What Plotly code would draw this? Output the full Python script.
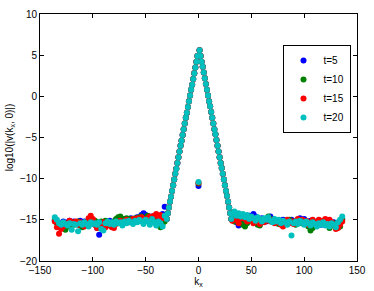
import plotly.graph_objects as go

# ---- data ----
left_k = list(range(-136, -31, 2))      # 53 points
right_k = list(range(32, 137, 2))       # 53 points
peak_k = list(range(-30, 0)) + list(range(1, 32))
peak_vals = [-14.9, -14.2, -13.5, -12.8, -12.2, -11.5, -10.8, -10.1, -9.4, -8.8,
             -8.1, -7.4, -6.7, -6.0, -5.4, -4.7, -4.0, -3.3, -2.6, -2.0,
             -1.3, -0.6, 0.1, 0.8, 1.4, 2.1, 2.8, 3.5, 4.2, 4.9,
             5.6, 4.9, 4.2, 3.6, 2.9, 2.2, 1.5, 0.8, 0.1, -0.6,
             -1.2, -1.9, -2.6, -3.3, -4.0, -4.6, -5.3, -6.0, -6.7, -7.4,
             -8.1, -8.7, -9.4, -10.1, -10.8, -11.5, -12.1, -12.8, -13.5, -14.2, -14.9]
k0 = [0]

labels = ["t=5", "t=10", "t=15", "t=20"]
colors = ["#0000ff", "#008000", "#ff0000", "#00bfbf"]

left_t5 = [-15.1, -15.3, -15.5, -15.4, -15.2, -15.5, -15.3, -15.1, -15.4, -15.2,
           -15.5, -15.3, -15.1, -15.4, -15.2, -15.5, -15.3, -15.1, -15.4, -15.6,
           -16.0, -16.8, -15.7, -15.4, -15.2, -15.3, -15.1, -15.4, -15.2, -15.0,
           -15.3, -15.1, -15.0, -14.9, -15.2, -15.0, -14.8, -15.1, -14.9, -14.7,
           -14.9, -14.4, -14.2, -14.4, -14.7, -14.9, -14.6, -14.8, -14.5, -14.7,
           -14.9, -14.3, -13.4]
left_t10 = [-15.0, -15.4, -15.7, -15.5, -15.9, -16.2, -15.8, -15.5, -15.3, -15.6,
            -15.4, -15.2, -15.7, -15.9, -15.5, -15.3, -15.1, -15.4, -15.2, -15.1,
            -15.3, -15.5, -15.2, -15.4, -15.1, -15.3, -15.7, -15.4, -15.2, -14.9,
            -14.7, -14.6, -14.9, -15.1, -14.8, -15.0, -14.9, -15.2, -14.8, -15.0,
            -14.7, -14.6, -14.8, -14.9, -14.5, -14.7, -14.9, -15.1, -15.3, -15.6,
            -15.9, -15.5, -15.2]
left_t15 = [-15.2, -15.9, -16.7, -16.1, -15.8, -15.4, -15.6, -15.1, -15.3, -15.5,
            -15.2, -15.6, -15.3, -15.5, -15.8, -15.4, -14.8, -14.5, -14.9, -15.6,
            -16.0, -15.7, -15.4, -15.3, -15.9, -15.6, -15.4, -15.9, -16.0, -15.5,
            -15.3, -15.1, -15.4, -15.2, -15.0, -15.3, -15.1, -14.9, -15.2, -14.8,
            -15.0, -14.7, -14.9, -15.1, -14.8, -14.6, -14.8, -14.5, -14.3, -14.6,
            -14.4, -14.8, -14.6]
left_t20 = [-14.7, -15.0, -15.4, -15.6, -15.3, -15.5, -15.7, -15.4, -16.2, -15.5,
            -15.6, -16.4, -15.4, -15.6, -15.3, -15.5, -15.8, -15.3, -15.5, -15.4,
            -15.6, -15.3, -16.1, -16.3, -15.4, -15.2, -15.5, -15.3, -15.6, -15.2,
            -15.4, -15.3, -15.7, -15.2, -15.4, -15.1, -15.3, -15.5, -15.1, -15.3,
            -15.0, -15.2, -15.5, -15.0, -15.2, -15.6, -14.9, -15.3, -15.7, -15.2,
            -15.4, -15.8, -14.5]

right_t5 = [-14.7, -14.9, -15.3, -15.7, -15.2, -14.9, -14.6, -14.8, -14.5, -14.7,
            -14.3, -14.6, -14.9, -15.1, -14.8, -15.0, -15.2, -14.9, -14.6, -14.9,
            -15.2, -15.4, -15.1, -15.3, -15.0, -15.3, -15.5, -15.2, -15.0, -15.3,
            -15.1, -15.0, -14.8, -15.1, -14.9, -15.2, -15.4, -15.1, -15.3, -15.5,
            -15.2, -15.4, -15.6, -15.3, -15.1, -15.4, -15.2, -15.5, -15.3, -15.6,
            -15.4, -15.2, -14.9]
right_t10 = [-14.8, -15.2, -14.9, -15.3, -15.0, -15.6, -15.8, -15.4, -15.1, -14.8,
             -15.0, -15.3, -15.6, -15.7, -15.2, -14.9, -15.1, -14.6, -14.9, -15.2,
             -15.0, -15.3, -15.5, -15.2, -15.4, -15.1, -15.3, -15.0, -15.2, -15.4,
             -15.6, -15.3, -15.1, -15.4, -15.2, -15.5, -15.8, -16.3, -16.0, -15.6,
             -15.3, -15.5, -15.2, -15.4, -15.6, -15.3, -16.0, -15.7, -15.4, -15.7,
             -15.9, -15.8, -15.0]
right_t15 = [-15.1, -14.6, -15.0, -15.4, -14.8, -14.5, -14.9, -15.2, -14.7, -15.0,
             -15.4, -14.9, -15.2, -15.5, -15.0, -15.3, -15.1, -14.8, -15.2, -15.0,
             -15.4, -15.1, -15.3, -15.6, -15.8, -15.2, -15.0, -15.4, -15.2, -15.5,
             -15.1, -14.9, -15.2, -15.0, -15.3, -15.1, -15.6, -15.3, -15.0, -15.4,
             -15.2, -15.0, -15.3, -15.1, -14.9, -15.2, -15.0, -15.3, -15.6, -16.1,
             -16.0, -15.6, -15.2]
right_t20 = [-14.3, -14.0, -14.5, -14.2, -14.6, -14.3, -14.7, -14.4, -14.9, -14.6,
             -14.8, -15.1, -14.7, -14.9, -15.2, -14.8, -15.0, -14.7, -15.1, -15.3,
             -14.9, -15.2, -15.0, -15.4, -15.1, -15.3, -15.6, -15.2, -16.9, -15.4,
             -15.2, -15.5, -15.1, -15.3, -15.6, -15.2, -15.4, -15.7, -15.3, -15.5,
             -15.8, -15.4, -15.6, -15.3, -15.7, -15.5, -15.8, -15.4, -15.6, -15.9,
             -15.3, -15.0, -14.6]

k0_vals = [-10.9, -10.6, -10.5, -10.4]

lefts = [left_t5, left_t10, left_t15, left_t20]
rights = [right_t5, right_t10, right_t15, right_t20]

# ---- figure ----
FONT = "Liberation Sans, Arial, sans-serif"
fig = go.Figure()
for i in range(4):
    xs = left_k + peak_k + k0 + right_k
    ys = lefts[i] + peak_vals + [k0_vals[i]] + rights[i]
    fig.add_trace(go.Scatter(
        x=xs, y=ys, mode="markers", name=labels[i],
        marker=dict(color=colors[i], size=6, line=dict(width=0)),
    ))

axis_common = dict(
    showgrid=False, zeroline=False, showline=True, linecolor="black", linewidth=1,
    mirror="allticks", ticks="inside", ticklen=4, tickcolor="black", tickwidth=1,
    tickfont=dict(family=FONT, size=10, color="black"),
)

fig.update_layout(
    width=374, height=291,
    margin=dict(l=40, r=12, t=8, b=28),
    paper_bgcolor="white", plot_bgcolor="white",
    showlegend=True,
    legend=dict(
        x=0.765, y=0.875, xanchor="left", yanchor="top",
        bgcolor="white", bordercolor="black", borderwidth=1,
        font=dict(family=FONT, size=10, color="black"),
        itemwidth=30, tracegroupgap=0,
    ),
    xaxis=dict(range=[-150, 150], tickvals=[-150, -100, -50, 0, 50, 100, 150],
               ticktext=["\u2212150", "\u2212100", "\u221250", "0", "50", "100", "150"],
               title=dict(text="k<sub>x</sub>", standoff=0,
                          font=dict(family=FONT, size=10, color="black")),
               **axis_common),
    yaxis=dict(range=[-20, 10], tickvals=[-20, -15, -10, -5, 0, 5, 10],
               ticktext=["\u221220", "\u221215", "\u221210", "\u22125", "0", "5", "10"],
               title=dict(text="log10(|v(k<sub>x</sub>, 0)|)", standoff=4,
                          font=dict(family=FONT, size=10, color="black")),
               **axis_common),
)

fig.write_html("out.html", config={"displayModeBar": False},
               post_script="document.body.style.margin='0';")
